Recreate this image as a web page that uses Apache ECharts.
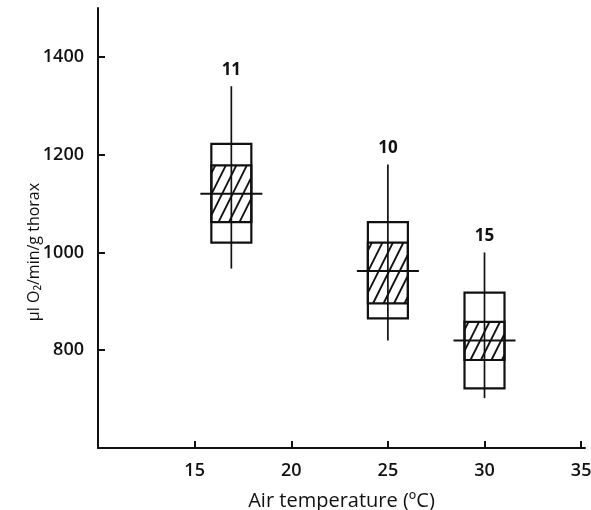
<!DOCTYPE html>
<html>
<head>
<meta charset="utf-8">
<script src="https://cdn.jsdelivr.net/npm/echarts@6/dist/echarts.min.js"></script>
<style>
  html, body { margin: 0; padding: 0; background: #fff; }
  #chart { width: 591px; height: 510px; }
</style>
</head>
<body>
<div id="chart"></div>
<script>
// values
const temps = [16.9, 25, 30];
const whiskerHigh = [1340, 1180, 1000];
const boxHigh = [1222, 1062, 918];
const hatchHigh = [1178, 1020, 858];
const means = [1120, 962, 820];
const hatchLow = [1062, 896, 780];
const boxLow = [1020, 865, 722];
const whiskerLow = [967, 820, 702];
const sampleSizes = ['11', '10', '15'];

const xTicks = [15, 20, 25, 30, 35];
const yTicks = [800, 1000, 1200, 1400];

const FONT = "'Open Sans', sans-serif";

const boxData = temps.map((t, i) => [
  t, whiskerLow[i], boxLow[i], hatchLow[i], means[i],
  hatchHigh[i], boxHigh[i], whiskerHigh[i], sampleSizes[i]
]);

// draws one box: outer range, hatched inner range, whisker, mean bar, n label
function renderBox(params, api) {
  const x = api.value(0);
  const py = v => api.coord([x, v])[1];
  const cx = api.coord([x, api.value(4)])[0];
  const yWL = py(api.value(1)), yBL = py(api.value(2)), yHL = py(api.value(3));
  const yM = py(api.value(4)), yHH = py(api.value(5)), yBH = py(api.value(6));
  const yWH = py(api.value(7));
  const hw = 20, mw = 31;
  const black = '#111';
  const children = [];

  children.push({
    type: 'rect',
    shape: { x: cx - hw, y: yBH, width: 2 * hw, height: yBL - yBH },
    style: { fill: '#fff', stroke: black, lineWidth: 2.2 }
  });

  // diagonal hatching clipped to the inner rect
  const xl = cx - hw, xr = cx + hw, h = yHL - yHH, run = h * 0.5, step = 10.5;
  for (let c = xl - run + 4; c < xr; c += step) {
    const t0 = Math.max(0, (xl - c) / run);
    const t1 = Math.min(1, (xr - c) / run);
    if (t1 <= t0) continue;
    children.push({
      type: 'line',
      shape: { x1: c + t0 * run, y1: yHL - t0 * h, x2: c + t1 * run, y2: yHL - t1 * h },
      style: { stroke: black, lineWidth: 1.9 }
    });
  }

  children.push({
    type: 'rect',
    shape: { x: cx - hw, y: yHH, width: 2 * hw, height: yHL - yHH },
    style: { fill: 'none', stroke: black, lineWidth: 2.2 }
  });
  children.push({
    type: 'line',
    shape: { x1: cx, y1: yWH, x2: cx, y2: yWL },
    style: { stroke: black, lineWidth: 1.7 }
  });
  children.push({
    type: 'line',
    shape: { x1: cx - mw, y1: yM, x2: cx + mw, y2: yM },
    style: { stroke: black, lineWidth: 1.9 }
  });
  children.push({
    type: 'text',
    style: {
      text: api.value(8), x: cx, y: yWH - 8,
      align: 'center', verticalAlign: 'bottom',
      font: 'bold 17px ' + FONT, fill: black
    }
  });
  return { type: 'group', children: children };
}

const chart = echarts.init(document.getElementById('chart'));
chart.setOption({
  animation: false,
  backgroundColor: '#fff',
  grid: { left: 98, top: 8, width: 487, height: 440, outerBoundsMode: 'none' },
  xAxis: {
    type: 'value',
    min: 10,
    max: 35.2,
    interval: 5,
    splitLine: { show: false },
    axisLine: { lineStyle: { color: '#111', width: 2 } },
    axisTick: { inside: true, length: 7, customValues: xTicks, lineStyle: { color: '#111', width: 2 } },
    axisLabel: {
      customValues: xTicks, margin: 14, fontFamily: FONT, fontSize: 18,
      fontWeight: 600, color: '#111', formatter: v => String(v)
    },
    name: 'Air temperature (ºC)',
    nameLocation: 'middle',
    nameGap: 43,
    nameMoveOverlap: false,
    nameTextStyle: { fontFamily: FONT, fontSize: 20, color: '#111' }
  },
  yAxis: {
    type: 'value',
    min: 600,
    max: 1500,
    interval: 100,
    splitLine: { show: false },
    axisLine: { show: true, lineStyle: { color: '#111', width: 2 } },
    axisTick: { show: true, inside: true, length: 7, customValues: yTicks, lineStyle: { color: '#111', width: 2 } },
    axisLabel: {
      customValues: yTicks, margin: 14, fontFamily: FONT, fontSize: 18,
      fontWeight: 600, color: '#111', formatter: v => String(v)
    },
    name: 'μl O₂/min/g thorax',
    nameLocation: 'middle',
    nameGap: 56,
    nameMoveOverlap: false,
    nameTextStyle: { fontFamily: FONT, fontSize: 16, color: '#111', padding: [0, 48, 0, 0] }
  },
  series: [{
    type: 'custom',
    clip: false,
    renderItem: renderBox,
    encode: { x: 0, y: 4 },
    data: boxData
  }]
});
</script>
</body>
</html>
